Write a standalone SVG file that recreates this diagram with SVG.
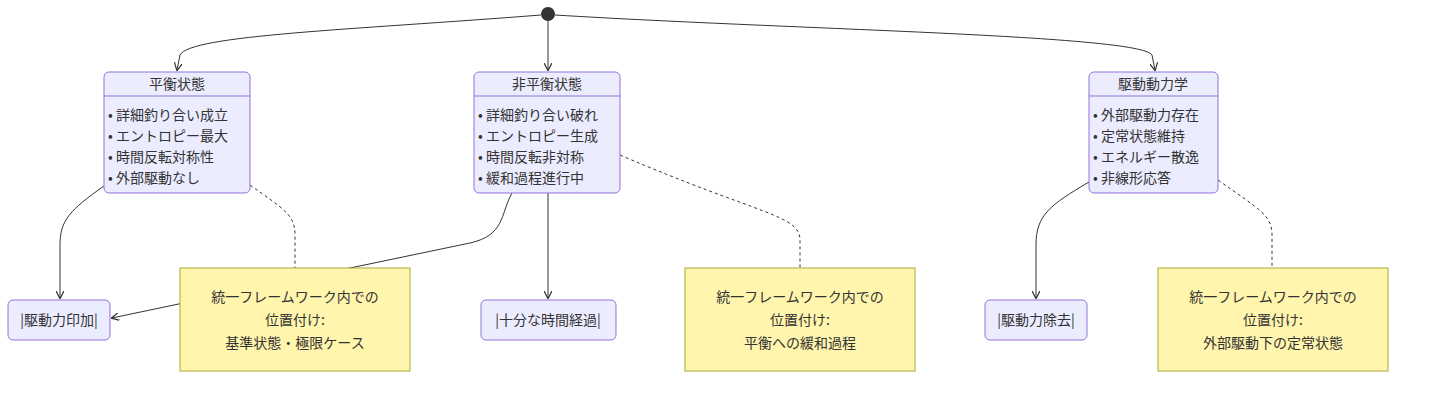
<svg xmlns="http://www.w3.org/2000/svg" width="1430" height="404" viewBox="0 0 1430 404">
<style>
text{font-family:"Noto Sans CJK JP","Liberation Sans",sans-serif;font-size:14px;fill:#333}
.st{fill:#ECECFF;stroke:#9370DB;stroke-width:1}
.nt{fill:#fff5ad;stroke:#aaaa33;stroke-width:1}
.e{fill:none;stroke:#333;stroke-width:1}
.d{fill:none;stroke:#333;stroke-width:1;stroke-dasharray:3,3}
.c{text-anchor:middle}
</style>
<defs><marker id="a" viewBox="0 0 10 10" refX="9" refY="5" markerWidth="8" markerHeight="8" orient="auto"><path d="M0,0 L10,5 L0,10" fill="none" stroke="#333" stroke-width="1.5"/></marker></defs>
<rect width="1430" height="404" fill="#fff"/>
<g id="connectors">
<path class="e" d="M541,15 C350,30 190,35 180,55 L177,70" marker-end="url(#a)"/>
<path class="e" d="M548,21 L548,70" marker-end="url(#a)"/>
<path class="e" d="M555,15 C800,30 1140,35 1152,55 L1155,70" marker-end="url(#a)"/>
<path class="e" d="M104,186 C70,210 60,220 60,245 L60,298" marker-end="url(#a)"/>
<path class="e" d="M512,193 C500,215 505,235 470,243 L350,268 L112,318" marker-end="url(#a)"/>
<path class="e" d="M548,193 L548,298" marker-end="url(#a)"/>
<path class="e" d="M1089,182 C1050,205 1036,215 1036,245 L1036,298" marker-end="url(#a)"/>
<path class="d" d="M250,185 C285,210 295,215 295,235 L295,268"/>
<path class="d" d="M620,155 C760,215 800,215 800,240 L800,268"/>
<path class="d" d="M1218,180 C1260,210 1272,215 1272,235 L1272,268"/>
</g>
<g id="start"><circle cx="548" cy="14" r="7" fill="#333"/></g>
<g id="n1"><rect class="st" x="104" y="72" width="146" height="121" rx="5"/><line x1="104" y1="96" x2="250" y2="96" stroke="#9370DB"/><text class="c" x="177" y="89">平衡状態</text>
<text x="108" y="120">• 詳細釣り合い成立</text><text x="108" y="141">• エントロピー最大</text><text x="108" y="162">• 時間反転対称性</text><text x="108" y="183">• 外部駆動なし</text></g>
<g id="n2"><rect class="st" x="474" y="72" width="146" height="121" rx="5"/><line x1="474" y1="96" x2="620" y2="96" stroke="#9370DB"/><text class="c" x="547" y="89">非平衡状態</text>
<text x="478" y="120">• 詳細釣り合い破れ</text><text x="478" y="141">• エントロピー生成</text><text x="478" y="162">• 時間反転非対称</text><text x="478" y="183">• 緩和過程進行中</text></g>
<g id="n3"><rect class="st" x="1089" y="72" width="129" height="121" rx="5"/><line x1="1089" y1="96" x2="1218" y2="96" stroke="#9370DB"/><text class="c" x="1153" y="89">駆動動力学</text>
<text x="1093" y="120">• 外部駆動力存在</text><text x="1093" y="141">• 定常状態維持</text><text x="1093" y="162">• エネルギー散逸</text><text x="1093" y="183">• 非線形応答</text></g>
<g id="s1"><rect class="st" x="8" y="300" width="102" height="40" rx="5"/><text class="c" x="59" y="325">|駆動力印加|</text></g>
<g id="s2"><rect class="st" x="481" y="300" width="135" height="40" rx="5"/><text class="c" x="548" y="325">|十分な時間経過|</text></g>
<g id="s3"><rect class="st" x="985" y="300" width="102" height="40" rx="5"/><text class="c" x="1036" y="325">|駆動力除去|</text></g>
<g id="note1"><rect class="nt" x="180" y="268" width="230" height="103"/><text class="c" x="295" y="302">統一フレームワーク内での</text><text class="c" x="295" y="325">位置付け:</text><text class="c" x="295" y="348">基準状態・極限ケース</text></g>
<g id="note2"><rect class="nt" x="685" y="268" width="230" height="103"/><text class="c" x="800" y="302">統一フレームワーク内での</text><text class="c" x="800" y="325">位置付け:</text><text class="c" x="800" y="348">平衡への緩和過程</text></g>
<g id="note3"><rect class="nt" x="1158" y="268" width="230" height="103"/><text class="c" x="1273" y="302">統一フレームワーク内での</text><text class="c" x="1273" y="325">位置付け:</text><text class="c" x="1273" y="348">外部駆動下の定常状態</text></g>
</svg>
